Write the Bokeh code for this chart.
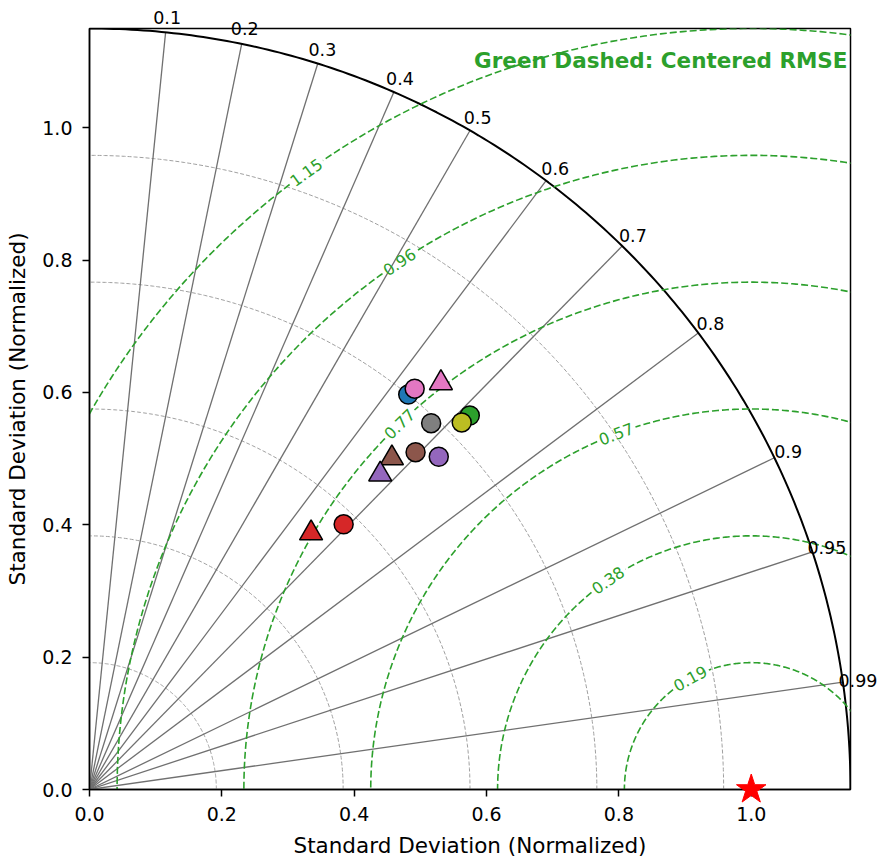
import numpy as np
from bokeh.plotting import figure
from bokeh.models import (Label, FixedTicker, PrintfTickFormatter, Range1d)
from bokeh.core.properties import value
from bokeh.embed import file_html
from bokeh.resources import INLINE

# ---------------- data ----------------
ref_std = 1.0
std_max = 1.15

x_ticks = [0.0, 0.2, 0.4, 0.6, 0.8, 1.0]
y_ticks = [0.0, 0.2, 0.4, 0.6, 0.8, 1.0]

corr_ticks = [0.1, 0.2, 0.3, 0.4, 0.5, 0.6, 0.7, 0.8, 0.9, 0.95, 0.99]
corr_tick_labels = ["0.1", "0.2", "0.3", "0.4", "0.5", "0.6", "0.7", "0.8", "0.9", "0.95", "0.99"]

std_arc_levels = [0.1917, 0.3833, 0.575, 0.7667, 0.9583]

rmse_levels = [0.1917, 0.3833, 0.575, 0.7667, 0.9583, 1.15]
rmse_labels = ["0.19", "0.38", "0.57", "0.77", "0.96", "1.15"]
rmse_label_pos_deg = [118.8, 124.4, 110.8, 133.9, 123.7, 125.8]

circle_colors = ["#1f77b4", "#2ca02c", "#d62728", "#9467bd",
                 "#8c564b", "#e377c2", "#7f7f7f", "#bcbd22"]
circle_std = [0.767, 0.806, 0.555, 0.729, 0.709, 0.780, 0.757, 0.790]
circle_corr = [0.628, 0.713, 0.692, 0.724, 0.695, 0.630, 0.682, 0.712]

triangle_colors = ["#d62728", "#8c564b", "#9467bd", "#e377c2"]
triangle_std = [0.512, 0.678, 0.648, 0.812]
triangle_corr = [0.654, 0.674, 0.678, 0.654]

title_text = "Green Dashed: Centered RMSE"
axis_label = "Standard Deviation (Normalized)"

GREEN = "#2ca02c"
FONT = "DejaVu Sans"

# ---------------- figure ----------------
p = figure(width=880, height=861, x_range=Range1d(0, std_max), y_range=Range1d(0, std_max),
           output_backend="svg", toolbar_location=None,
           min_border_left=89, min_border_right=30, min_border_top=28, min_border_bottom=72)
p.grid.visible = False
p.background_fill_color = "white"
p.border_fill_color = "white"
p.outline_line_color = "black"
p.outline_line_width = 1.5
p.outline_line_alpha = 1.0

for ax, ticks in ((p.xaxis, x_ticks), (p.yaxis, y_ticks)):
    ax.ticker = FixedTicker(ticks=ticks)
    ax.formatter = PrintfTickFormatter(format="%.1f")
    ax.minor_tick_line_color = None
    ax.major_tick_in = 0
    ax.major_tick_out = 7
    ax.major_tick_line_width = 1.5
    ax.major_tick_line_color = "black"
    ax.axis_line_width = 1.5
    ax.axis_line_color = "black"
    ax.major_label_text_font = FONT
    ax.major_label_text_font_size = "19px"
    ax.major_label_text_color = "black"
    ax.axis_label = axis_label
    ax.axis_label_text_font = FONT
    ax.axis_label_text_font_size = "21.5px"
    ax.axis_label_text_font_style = "normal"
    ax.axis_label_text_color = "black"
p.xaxis.major_label_standoff = 10
p.yaxis.major_label_standoff = 10
p.xaxis.axis_label_standoff = 9
p.yaxis.axis_label_standoff = 9

# std-dev arcs (grey dashed)
t_q = np.linspace(0, np.pi / 2, 200)
p.multi_line(xs=[list(r * np.cos(t_q)) for r in std_arc_levels],
             ys=[list(r * np.sin(t_q)) for r in std_arc_levels],
             line_color="#a0a0a0", line_width=1, line_dash="4 2")

# correlation rays
angles = np.arccos(np.array(corr_ticks))
p.segment(x0=[0] * len(angles), y0=[0] * len(angles),
          x1=list(std_max * np.cos(angles)), y1=list(std_max * np.sin(angles)),
          line_color="#707070", line_width=1.3)

# outer arc
p.line(x=std_max * np.cos(t_q), y=std_max * np.sin(t_q), line_color="black", line_width=2)

# RMSE contours with gaps at labels
gap_half_width = 0.031  # data units
xs_c, ys_c = [], []
lab_x, lab_y, lab_a = [], [], []
for r, pos in zip(rmse_levels, rmse_label_pos_deg):
    pc = np.deg2rad(pos)
    g = gap_half_width / r
    for a0, a1 in ((0.0, pc - g), (pc + g, np.pi)):
        tt = np.linspace(a0, a1, 300)
        xs_c.append(list(ref_std + r * np.cos(tt)))
        ys_c.append(list(r * np.sin(tt)))
    lab_x.append(ref_std + r * np.cos(pc))
    lab_y.append(r * np.sin(pc))
    lab_a.append(pc - np.pi / 2)
p.multi_line(xs=xs_c, ys=ys_c, line_color=GREEN, line_width=1.6, line_dash="7 3")
p.text(x=lab_x, y=lab_y, text=rmse_labels, angle=lab_a,
       text_align="center", text_baseline="middle", text_color=GREEN,
       text_font=value(FONT), text_font_size="16px")

# correlation labels (unclipped)
rl = std_max * 1.02
corr_txt = p.text(x=list(rl * np.cos(angles)), y=list(rl * np.sin(angles)), text=corr_tick_labels,
                  text_align="center", text_baseline="middle",
                  text_font=value(FONT), text_font_size="17.5px", text_color="black")
corr_txt.level = "overlay"

# points
cs = np.array(circle_std); cc = np.array(circle_corr)
p.scatter(x=cs * cc, y=cs * np.sin(np.arccos(cc)), marker="circle", size=19,
          fill_color=circle_colors, line_color="black", line_width=1.5)
ts = np.array(triangle_std); tc = np.array(triangle_corr)
p.scatter(x=ts * tc, y=ts * np.sin(np.arccos(tc)), marker="triangle", size=23,
          fill_color=triangle_colors, line_color="black", line_width=1.5)

# reference star
star = p.scatter(x=[ref_std], y=[0.0], marker="star", size=31,
                 fill_color="red", line_color="red", line_width=1)
star.level = "overlay"

# title text
p.add_layout(Label(x=std_max, y=1.101, x_offset=-3, text=title_text,
                   text_align="right", text_baseline="middle",
                   text_font=FONT, text_font_size="21.5px", text_font_style="bold",
                   text_color=GREEN))

open("out.html", "w").write(file_html(p, INLINE))
